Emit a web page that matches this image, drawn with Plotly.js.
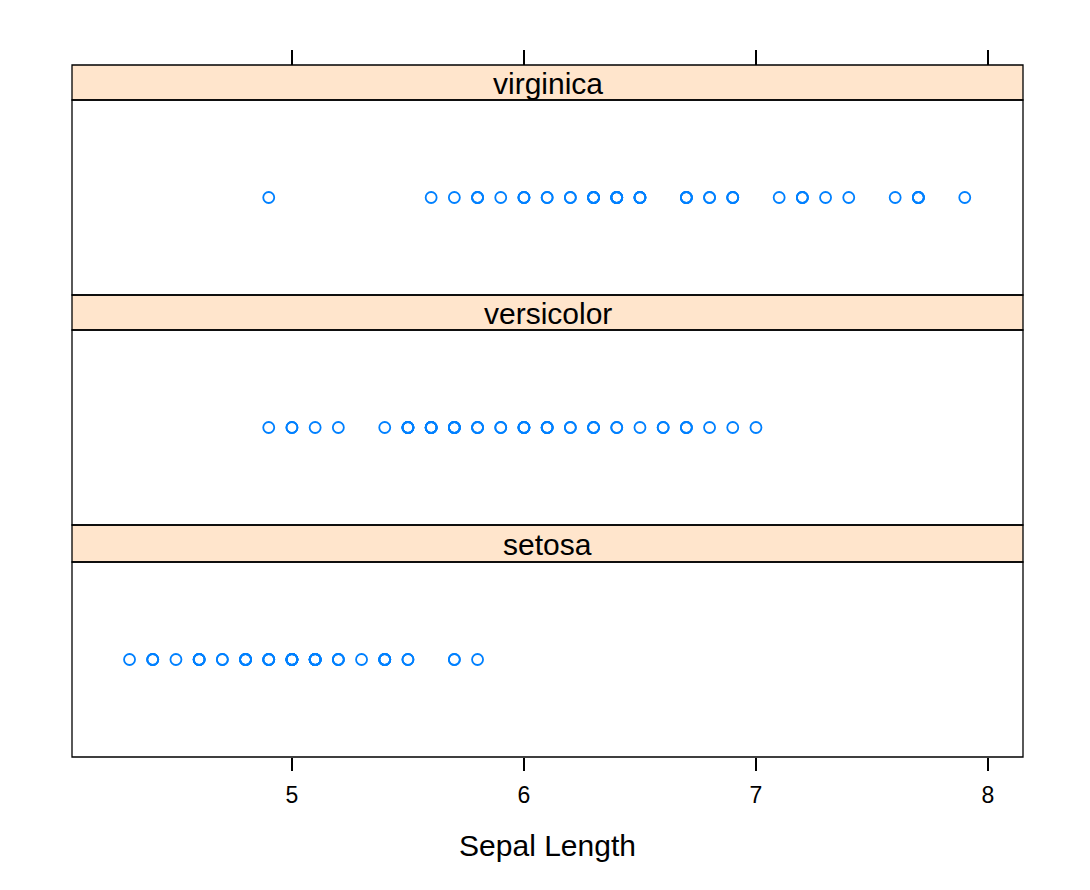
<!DOCTYPE html>
<html>
<head>
<meta charset="utf-8">
<script src="https://cdn.plot.ly/plotly-3.0.1.min.js"></script>
<style>html,body{margin:0;padding:0;background:#fff;}#chart{width:1090px;height:890px;}</style>
</head>
<body>
<div id="chart"></div>
<script>
var species = ["setosa", "versicolor", "virginica"];
var setosa = [5.1,4.9,4.7,4.6,5.0,5.4,4.6,5.0,4.4,4.9,5.4,4.8,4.8,4.3,5.8,5.7,5.4,5.1,5.7,5.1,5.4,5.1,4.6,5.1,4.8,5.0,5.0,5.2,5.2,4.7,4.8,5.4,5.2,5.5,4.9,5.0,5.5,4.9,4.4,5.1,5.0,4.5,4.4,5.0,5.1,4.8,5.1,4.6,5.3,5.0];
var versicolor = [7.0,6.4,6.9,5.5,6.5,5.7,6.3,4.9,6.6,5.2,5.0,5.9,6.0,6.1,5.6,6.7,5.6,5.8,6.2,5.6,5.9,6.1,6.3,6.1,6.4,6.6,6.8,6.7,6.0,5.7,5.5,5.5,5.8,6.0,5.4,6.0,6.7,6.3,5.6,5.5,5.5,6.1,5.8,5.0,5.6,5.7,5.7,6.2,5.1,5.7];
var virginica = [6.3,5.8,7.1,6.3,6.5,7.6,4.9,7.3,6.7,7.2,6.5,6.4,6.8,5.7,5.8,6.4,6.5,7.7,7.7,6.0,6.9,5.6,7.7,6.3,6.7,7.2,6.2,6.1,6.4,7.2,7.4,7.9,6.4,6.3,6.1,7.7,6.3,6.4,6.0,6.9,6.7,6.9,5.8,6.8,6.7,6.0,6.4,6.5,6.2,5.9];
var xTicks = [5, 6, 7, 8];
var xTitle = "Sepal Length";

var H = 692; // plot area height px
function f(px){ return (757 - px) / H; }
var panels = [
  {name: species[0], data: setosa,     ya: "y",  bot: f(757), top: f(562), stripTop: f(525)},
  {name: species[1], data: versicolor, ya: "y2", bot: f(525), top: f(330), stripTop: f(295)},
  {name: species[2], data: virginica,  ya: "y3", bot: f(295), top: f(100), stripTop: f(65)}
];

var traces = panels.map(function(p){
  return {
    type: "scatter", mode: "markers",
    x: p.data, y: p.data.map(function(){ return 1; }),
    xaxis: "x", yaxis: p.ya,
    marker: {symbol: "circle-open", size: 11, color: "#0080ff", line: {width: 1.8, color: "#0080ff"}},
    showlegend: false, hoverinfo: "x"
  };
});

var xr = [4.052, 8.151];
var shapes = [], annotations = [];
panels.forEach(function(p){
  shapes.push({type: "rect", xref: "paper", yref: "paper", x0: 0, x1: 1, y0: p.bot, y1: p.top,
               line: {color: "#000", width: 1.3}, fillcolor: "rgba(0,0,0,0)", layer: "above"});
  shapes.push({type: "rect", xref: "paper", yref: "paper", x0: 0, x1: 1, y0: p.top, y1: p.stripTop,
               line: {color: "#000", width: 1.3}, fillcolor: "#FFE5CC", layer: "below"});
  annotations.push({xref: "paper", yref: "paper", x: 0.5, y: (p.top + p.stripTop) / 2,
                    text: p.name, showarrow: false, xanchor: "center", yanchor: "middle", yshift: -1,
                    font: {family: "Liberation Sans, Arial, sans-serif", size: 30, color: "#000"}});
});

function yax(p){
  return {domain: [p.bot, p.top], range: [0, 2], showticklabels: false, ticks: "",
          showgrid: false, zeroline: false, showline: false, fixedrange: true};
}

var layout = {
  width: 1090, height: 890,
  margin: {l: 72, r: 67, t: 65, b: 133},
  paper_bgcolor: "#fff", plot_bgcolor: "rgba(0,0,0,0)",
  font: {family: "Liberation Sans, Arial, sans-serif", color: "#000"},
  xaxis: {range: xr, tickvals: xTicks, ticktext: xTicks.map(String), ticks: "outside", ticklen: 13,
          tickwidth: 1.3, tickcolor: "#000", showgrid: false, zeroline: false, showline: false,
          anchor: "y", tickfont: {size: 23}, ticklabelstandoff: 4,
          title: {text: xTitle, font: {size: 30}, standoff: 28}},
  xaxis2: {range: xr, overlaying: "x", side: "top", anchor: "free", position: 1,
           tickvals: xTicks, ticks: "outside", ticklen: 15, tickwidth: 1.3, tickcolor: "#000",
           showticklabels: false, showgrid: false, zeroline: false, showline: false},
  yaxis: yax(panels[0]), yaxis2: yax(panels[1]), yaxis3: yax(panels[2]),
  shapes: shapes, annotations: annotations
};
traces.push({type: "scatter", x: [xr[0]], y: [1], xaxis: "x2", yaxis: "y3", mode: "markers",
             marker: {opacity: 0}, showlegend: false, hoverinfo: "skip"});

Plotly.newPlot("chart", traces, layout, {displayModeBar: false, staticPlot: true});
</script>
</body>
</html>
